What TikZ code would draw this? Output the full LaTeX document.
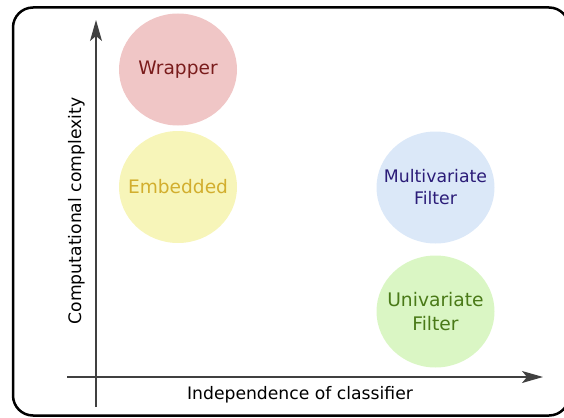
\documentclass[tikz,border=0pt]{standalone}
\usepackage{fontspec}
\setmainfont{DejaVu Sans}
\usetikzlibrary{arrows.meta, shapes.geometric}
\definecolor{wrapfill}{HTML}{F0C6C6}
\definecolor{wraptext}{HTML}{7A1C1C}
\definecolor{embfill}{HTML}{F7F5B9}
\definecolor{embtext}{HTML}{D2AE2E}
\definecolor{multifill}{HTML}{DBE8F8}
\definecolor{multitext}{HTML}{2B1C78}
\definecolor{unifill}{HTML}{DAF6C4}
\definecolor{unitext}{HTML}{4A7A18}
\definecolor{axisgray}{HTML}{404040}
\tikzset{
  blob/.style={ellipse, minimum width=118pt, minimum height=112pt, inner sep=0pt},
  blobtext/.style={align=center, inner sep=0pt},
  axisline/.style={draw=axisgray, line width=1.3pt, -{Stealth[length=21pt, width=12pt, inset=5pt]}},
  axislabel/.style={font=\fontsize{17.2}{20}\selectfont, inner sep=0pt},
}
\begin{document}
\begin{tikzpicture}[x=1pt, y=-1pt]
  \useasboundingbox (0,0) rectangle (564,417);
  % outer frame
  \draw[line width=2.5pt, rounded corners=20pt] (13,7.5) rectangle (569,415.5);

  % category blobs
  \node[blob, fill=wrapfill] (wrap) at (178,69.5) {};
  \node[blob, fill=embfill] (emb) at (178,187) {};
  \node[blob, fill=multifill] (multi) at (435.5,187.5) {};
  \node[blob, fill=unifill] (uni) at (435.5,311.5) {};

  \node[blobtext, text=wraptext, font=\fontsize{18.6}{22}\selectfont] (wraplab) at (wrap) {Wrapper};
  \node[blobtext, text=embtext, font=\fontsize{18.6}{22}\selectfont] (emblab) at (emb) {Embedded};
  \node[blobtext, text=multitext, font=\fontsize{17.3}{22}\selectfont] (multilab) at (multi) {Multivariate\\Filter};
  \node[blobtext, text=unitext, font=\fontsize{18.7}{24}\selectfont] (unilab) at (uni) {Univariate\\Filter};

  % axes
  \coordinate (ybot) at (96,407);
  \coordinate (ytop) at (96,20);
  \coordinate (xleft) at (67,377);
  \coordinate (xright) at (543,377);
  \draw[axisline] (ybot) -- (ytop);
  \draw[axisline] (xleft) -- (xright);

  \node[axislabel, anchor=base] (xlab) at (300,399) {Independence of classifier};
  \node[axislabel, anchor=base, rotate=90] (ylab) at (81,211) {Computational complexity};
\end{tikzpicture}
\end{document}
